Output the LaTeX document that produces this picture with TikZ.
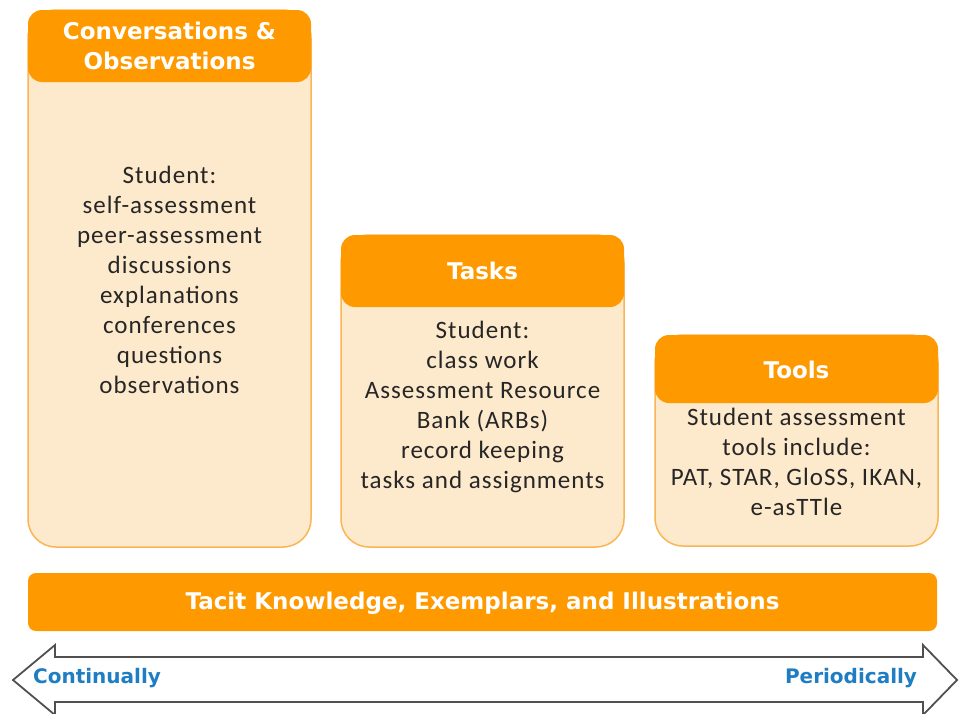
\documentclass[tikz,border=0pt]{standalone}
\usepackage{fontspec}
\setmainfont{Carlito}[LetterSpace=4]
\newfontfamily\hdfont{DejaVu Sans}
\definecolor{hdorange}{RGB}{255,153,0}
\definecolor{bodyfill}{RGB}{253,233,203}
\definecolor{bodyedge}{RGB}{250,182,85}
\definecolor{lblblue}{RGB}{30,125,195}
\definecolor{arrowgray}{RGB}{80,80,80}
\tikzset{
  bodybox/.style={fill=bodyfill, draw=bodyedge, line width=1.5pt, rounded corners=28pt},
  headbox/.style={fill=hdorange, rounded corners=14pt},
  headtext/.style={text=white, align=center, font={\hdfont\bfseries\fontsize{23}{30}\selectfont}},
  bodytext/.style={text=black!85, align=center, font={\fontsize{25}{30}\selectfont}},
  bartext/.style={text=white, font={\hdfont\bfseries\fontsize{23}{28}\selectfont}},
  endlabel/.style={text=lblblue, font={\hdfont\bfseries\fontsize{20}{24}\selectfont}}
}
\begin{document}
\begin{tikzpicture}[x=1pt,y=-1pt]
\useasboundingbox (0,0) rectangle (960,713);
\clip (0,0) rectangle (960,713);
% Box 1
\draw[bodybox] (28,10) rectangle (311,547);
\fill[headbox] (28,10) rectangle (311,82);
\node[headtext] (h1) at (169.5,46) {Conversations \&\\Observations};
\node[bodytext] (b1) at (169.5,280) {Student:\\self-assessment\\peer-assessment\\discussions\\explanations\\conferences\\questions\\observations};
% Box 2
\draw[bodybox] (341,235) rectangle (624,547);
\fill[headbox] (341,235) rectangle (624,307);
\node[headtext] (h2) at (482.5,271) {Tasks};
\node[bodytext] (b2) at (482.5,407) {Student:\\class work\\Assessment Resource\\Bank (ARBs)\\record keeping\\tasks and assignments};
% Box 3
\draw[bodybox] (655,335) rectangle (938,546);
\fill[headbox] (655,335) rectangle (938,403);
\node[headtext] (h3) at (796.5,370) {Tools};
\node[bodytext] (b3) at (796.5,462) {Student assessment\\tools include:\\PAT, STAR, GloSS, IKAN,\\e-asTTle};
% Bar
\fill[hdorange, rounded corners=8pt] (28,573) rectangle (937,631);
\node[bartext] (bar) at (482.5,603) {Tacit Knowledge, Exemplars, and Illustrations};
% Double arrow
\draw[arrowgray, line width=1.8pt, fill=white, line join=miter]
  (13,680) -- (55,645) -- (55,657) -- (923,657) -- (923,645) -- (957,680)
  -- (923,715) -- (923,702) -- (55,702) -- (55,715) -- cycle;
\node[endlabel] (cont) at (97,678) {Continually};
\node[endlabel] (peri) at (851,678) {Periodically};
\end{tikzpicture}
\end{document}
